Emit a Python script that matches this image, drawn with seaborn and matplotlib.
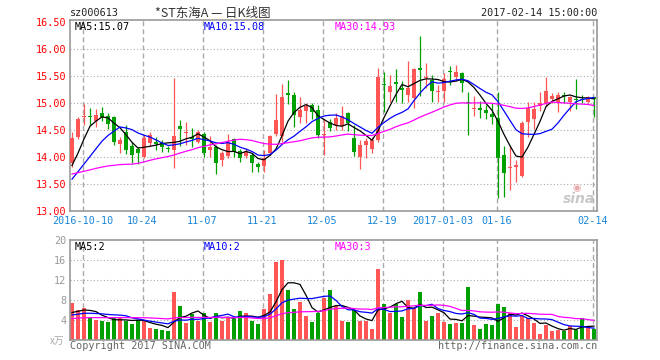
import numpy as np
import pandas as pd
import matplotlib
matplotlib.use("Agg")
import matplotlib.pyplot as plt
import seaborn as sns

# ---------------- data ----------------
opens = [13.89, 14.37, 14.74, 14.75, 14.66, 14.81, 14.76, 14.74, 14.23, 14.45,
         14.20, 14.14, 14.00, 14.25, 14.28, 14.25, 14.16, 14.12, 14.57, 14.43,
         14.37, 14.28, 14.42, 14.13, 14.17, 13.94, 14.01, 14.33, 14.11, 14.01,
         14.03, 13.86, 13.82, 14.07, 14.42, 14.38, 15.17, 15.14, 14.73, 14.85,
         14.96, 14.86, 14.40, 14.65, 14.59, 14.57, 14.80, 14.34, 14.00, 14.22,
         14.14, 14.31, 15.34, 15.20, 15.39, 15.27, 15.14, 15.08, 15.64, 15.46,
         15.42, 15.19, 15.22, 15.58, 15.47, 15.54, 15.01, 14.89, 14.91, 14.86,
         14.79, 14.71, 14.03, 13.79, 13.80, 13.64, 14.65, 14.69, 14.94, 14.99,
         15.06, 15.02, 15.15, 15.02, 15.06, 15.07, 15.02, 15.10]
highs = [14.45, 14.74, 14.98, 14.90, 14.88, 14.92, 14.80, 14.76, 14.37, 14.58,
         14.28, 14.18, 14.40, 14.45, 14.36, 14.30, 14.20, 15.45, 14.67, 14.64,
         14.54, 14.50, 14.45, 14.38, 14.22, 14.11, 14.42, 14.35, 14.14, 14.16,
         14.06, 13.91, 14.12, 14.40, 15.16, 15.34, 15.42, 15.20, 15.10, 14.99,
         15.00, 14.95, 14.68, 14.70, 14.80, 14.93, 14.82, 14.59, 14.31, 14.34,
         14.37, 15.64, 15.56, 15.51, 15.62, 15.40, 15.77, 15.64, 16.23, 15.73,
         15.52, 15.33, 15.55, 15.67, 15.70, 15.56, 15.19, 15.12, 15.03, 14.95,
         15.00, 15.20, 14.19, 14.19, 13.93, 14.66, 15.02, 15.02, 15.19, 15.47,
         15.17, 15.20, 15.20, 15.13, 15.43, 15.14, 15.13, 15.11]
lows = [13.80, 14.32, 14.59, 14.58, 14.55, 14.66, 14.52, 14.22, 14.07, 14.05,
        13.88, 13.87, 13.97, 14.20, 14.13, 14.08, 14.08, 13.79, 14.20, 14.22,
        14.17, 14.25, 13.99, 14.00, 13.68, 13.82, 13.98, 13.99, 13.90, 13.98,
        13.72, 13.72, 13.72, 14.03, 14.38, 14.28, 14.97, 14.55, 14.62, 14.62,
        14.70, 14.35, 14.03, 14.47, 14.50, 14.49, 14.48, 14.01, 13.77, 13.97,
        14.07, 14.28, 14.83, 15.02, 15.02, 14.99, 15.02, 14.91, 15.12, 15.27,
        15.02, 15.02, 15.02, 15.33, 15.40, 15.19, 14.41, 14.75, 14.72, 14.70,
        14.60, 13.23, 13.25, 13.38, 13.53, 13.62, 14.37, 14.51, 14.85, 14.93,
        14.99, 14.82, 15.00, 14.85, 14.88, 14.99, 14.99, 14.73]
closes = [14.34, 14.69, 14.76, 14.73, 14.77, 14.73, 14.60, 14.27, 14.31, 14.12,
          14.03, 14.07, 14.34, 14.40, 14.23, 14.17, 14.14, 14.38, 14.51, 14.45,
          14.32, 14.46, 14.07, 14.18, 13.88, 14.06, 14.28, 14.09, 13.97, 14.09,
          13.88, 13.80, 13.97, 14.38, 14.68, 15.11, 15.15, 14.77, 14.86, 14.93,
          14.83, 14.40, 14.42, 14.53, 14.71, 14.76, 14.62, 14.08, 14.22, 14.29,
          14.31, 15.48, 15.32, 15.31, 15.34, 15.23, 15.27, 15.62, 15.60, 15.48,
          15.22, 15.22, 15.43, 15.56, 15.57, 15.37, 14.99, 14.91, 14.86, 14.80,
          14.73, 13.97, 13.70, 13.81, 13.85, 14.63, 14.90, 14.88, 15.00, 15.22,
          15.12, 15.14, 15.13, 15.10, 15.04, 15.05, 15.10, 15.06]
volumes = [7.4, 6.0, 6.5, 4.5, 4.0, 3.8, 3.6, 4.4, 4.4, 3.9,
           3.2, 4.0, 4.0, 2.4, 2.2, 2.0, 1.8, 9.6, 6.9, 3.5,
           5.2, 3.8, 5.4, 3.7, 5.4, 3.9, 4.4, 4.3, 5.8, 5.5,
           3.9, 3.2, 6.2, 9.2, 15.7, 16.1, 10.0, 6.2, 7.6, 4.9,
           3.7, 5.5, 8.4, 10.0, 6.8, 3.8, 3.6, 6.0, 3.8, 3.8,
           2.2, 14.2, 7.2, 5.5, 7.2, 4.6, 8.0, 6.5, 9.6, 3.8,
           4.9, 5.4, 3.6, 3.2, 3.5, 3.5, 10.6, 3.1, 2.2, 3.2,
           3.0, 7.2, 6.7, 5.5, 2.6, 4.9, 4.5, 3.4, 1.2, 3.0,
           1.8, 2.0, 1.8, 2.9, 2.0, 4.4, 2.4, 2.2]
# sessions before the window (estimated from where the MA lines start)
pre_closes = [13.90, 14.00, 13.95, 13.92, 14.02, 13.98, 13.90, 13.95, 13.93, 13.95,
              13.62, 13.55, 13.50, 13.45, 13.48, 13.52, 13.50, 13.46, 13.45, 13.47,
              13.30, 13.36, 13.32, 13.34, 13.33, 13.55, 13.45, 13.55, 14.30]
pre_volumes = [3.9, 4.1, 3.8, 4.0, 3.9, 4.0, 4.1, 3.8, 3.9, 4.0,
               3.9, 4.0, 4.0, 3.9, 4.0, 3.9, 4.0, 4.0, 3.9, 3.9,
               4.4, 4.6, 4.5, 4.5, 4.5, 4.8, 5.2, 4.9, 5.2]
tick_pos = [2, 12, 22, 32, 42, 52, 62, 71, 87]
tick_labels = ["2016-10-10", "10-24", "11-07", "11-21", "12-05", "12-19",
               "2017-01-03", "01-16", "02-14"]
price_ticks = [13.00, 13.50, 14.00, 14.50, 15.00, 15.50, 16.00, 16.50]
vol_ticks = [4, 8, 12, 16, 20]
price_ma_text = ["MA5:15.07", "MA10:15.08", "MA30:14.93"]
vol_ma_text = ["MA5:2", "MA10:2", "MA30:3"]

# ---------------- derived ----------------
n = len(closes)
idx = np.arange(n)
o, h, l, c = map(np.array, (opens, highs, lows, closes))
up = c >= o
pc = pd.Series(pre_closes + closes)
pv = pd.Series(pre_volumes + volumes)
k = len(pre_closes)
ma = {w: pc.rolling(w).mean().to_numpy()[k:] for w in (5, 10, 30)}
vma = {w: pv.rolling(w).mean().to_numpy()[k:] for w in (5, 10, 30)}

RED = "#FF5555"
GREEN = "#00A000"
GRID = "#AAAAAA"
SPINE = "#999999"
MONO = "DejaVu Sans Mono"
CJK = ["Noto Sans CJK SC", "DejaVu Sans"]
ma_colors = ["black", "#0000FF", "#FF00FF"]

W, H = 660, 360
fig = plt.figure(figsize=(6.6, 3.6), dpi=100)
fig.patch.set_facecolor("white")

def fx(px):
    return px / W

def fy(py):
    return 1 - py / H

ax = fig.add_axes([fx(70), fy(210.7), (597 - 70) / W, (210.7 - 20) / H])
axv = fig.add_axes([fx(70), fy(340), (597 - 70) / W, 100 / H])

XL = (-1 / 3, 87.5)
grid_x = [p - 0.25 for p in tick_pos]

# ---- price panel ----
for y in price_ticks[1:-1]:
    ax.axhline(y, color=GRID, lw=0.8, ls=(0, (1, 2)), zorder=0)
for x in grid_x:
    ax.axvline(x, color=GRID, lw=1.0, ls=(0, (3.6, 2.2)), zorder=0)

cols = np.where(up, RED, GREEN)
ax.vlines(idx, l, h, colors=cols, lw=0.9, zorder=2)
body_lo = np.minimum(o, c)
body_h = np.maximum(np.abs(c - o), 0.02)
ax.bar(idx, body_h, bottom=body_lo, width=0.8, color=cols, lw=0, zorder=3)

for w, col in zip((5, 10, 30), ma_colors):
    sns.lineplot(x=idx, y=ma[w], color=col, lw=0.9, ax=ax, zorder=4)

ax.set_xlim(*XL)
ax.set_ylim(13.0, 16.53)
ax.set_yticks(price_ticks)
ax.set_yticklabels([f"{v:.2f}" for v in price_ticks], color="#FF0000",
                   fontsize=7.3, family=MONO)
ax.set_xticks(grid_x)
ax.set_xticklabels(tick_labels, color="#1A86D8", fontsize=7.3, family=MONO)
ax.tick_params(length=0, pad=2.6)
ax.tick_params(axis="x", pad=4)
for s in ax.spines.values():
    s.set_color(SPINE)
    s.set_linewidth(1.2)
ax.set_xlabel("")
ax.set_ylabel("")

# ---- volume panel ----
for y in vol_ticks[:-1]:
    axv.axhline(y, color=GRID, lw=0.8, ls=(0, (1, 2)), zorder=0)
for x in grid_x:
    axv.axvline(x, color=GRID, lw=1.0, ls=(0, (3.6, 2.2)), zorder=0)

vdf = pd.DataFrame({"i": idx, "v": volumes, "dir": np.where(up, "up", "down")})
sns.barplot(data=vdf, x="i", y="v", hue="dir", palette={"up": RED, "down": GREEN},
            dodge=False, width=0.8, saturation=1, errorbar=None, legend=False,
            linewidth=0, ax=axv, zorder=2)
for w, col in zip((5, 10, 30), ma_colors):
    sns.lineplot(x=idx, y=vma[w], color=col, lw=0.9, ax=axv, zorder=4)

axv.set_xlim(*XL)
axv.set_ylim(0, 20)
axv.set_yticks(vol_ticks)
axv.set_yticklabels([str(v) for v in vol_ticks], color="#999999",
                    fontsize=7.3, family=MONO)
axv.set_xticks([])
axv.tick_params(length=0, pad=2.6)
for s in axv.spines.values():
    s.set_color(SPINE)
    s.set_linewidth(1.2)
axv.set_xlabel("")
axv.set_ylabel("")

# ---- texts ----
fig.text(fx(70), fy(13), "sz000613", fontsize=7.3, family=MONO, color="#222222",
         ha="left", va="center")
fig.text(fx(213), fy(13), "*ST东海A — 日K线图", fontsize=9, family=CJK,
         color="#333333", ha="center", va="center")
fig.text(fx(597), fy(13), "2017-02-14 15:00:00", fontsize=7.3, family=MONO,
         color="#222222", ha="right", va="center")
for xp, t, col in zip((75, 204, 335), price_ma_text, ma_colors):
    fig.text(fx(xp), fy(26.5), t, fontsize=7.3, family=MONO, color=col,
             ha="left", va="center")
for xp, t, col in zip((75, 204, 335), vol_ma_text, ma_colors):
    fig.text(fx(xp), fy(246.5), t, fontsize=7.3, family=MONO, color=col,
             ha="left", va="center")
fig.text(fx(64), fy(341), "x万", fontsize=7, family=CJK, color="#AAAAAA",
         ha="right", va="center")
fig.text(fx(70), fy(346), "Copyright 2017 SINA.COM", fontsize=7.3, family=MONO,
         color="#666666", ha="left", va="center")
fig.text(fx(597), fy(346), "http://finance.sina.com.cn", fontsize=7.3, family=MONO,
         color="#666666", ha="right", va="center")
# sina watermark
fig.text(fx(579), fy(199), "sina", fontsize=10, style="italic", weight="bold",
         color="#C8C8C8", ha="center", va="center")
fig.text(fx(577), fy(188), "◉", fontsize=7, color="#E8A8A8", ha="center",
         va="center")

fig.savefig("out.png", dpi=100, facecolor="white")
